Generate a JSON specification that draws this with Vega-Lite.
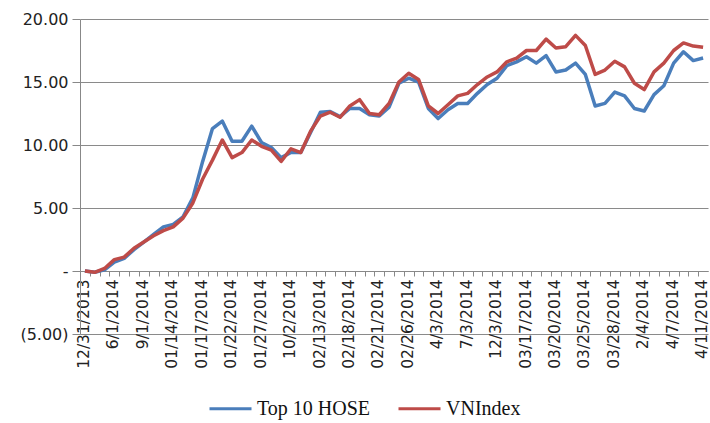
{
  "$schema": "https://vega.github.io/schema/vega-lite/v6.json",
  "width": 628,
  "height": 315,
  "autosize": "none",
  "padding": {"left": 80, "top": 19, "right": 2, "bottom": 89},
  "background": "white",
  "config": {"view": {"stroke": null}},
  "data": {"values": [
    {"day": "12/31/2013", "Top 10 HOSE": 0, "VNIndex": 0},
    {"day": "2/1/2014", "Top 10 HOSE": -0.1, "VNIndex": -0.1},
    {"day": "3/1/2014", "Top 10 HOSE": 0.1, "VNIndex": 0.2},
    {"day": "6/1/2014", "Top 10 HOSE": 0.7, "VNIndex": 0.9},
    {"day": "7/1/2014", "Top 10 HOSE": 1.0, "VNIndex": 1.1},
    {"day": "8/1/2014", "Top 10 HOSE": 1.7, "VNIndex": 1.8},
    {"day": "9/1/2014", "Top 10 HOSE": 2.3, "VNIndex": 2.3},
    {"day": "10/1/2014", "Top 10 HOSE": 2.9, "VNIndex": 2.8},
    {"day": "01/13/2014", "Top 10 HOSE": 3.5, "VNIndex": 3.2},
    {"day": "01/14/2014", "Top 10 HOSE": 3.7, "VNIndex": 3.5},
    {"day": "01/15/2014", "Top 10 HOSE": 4.3, "VNIndex": 4.2},
    {"day": "01/16/2014", "Top 10 HOSE": 5.8, "VNIndex": 5.4},
    {"day": "01/17/2014", "Top 10 HOSE": 8.7, "VNIndex": 7.3},
    {"day": "01/20/2014", "Top 10 HOSE": 11.3, "VNIndex": 8.8},
    {"day": "01/21/2014", "Top 10 HOSE": 11.9, "VNIndex": 10.4},
    {"day": "01/22/2014", "Top 10 HOSE": 10.3, "VNIndex": 9.0},
    {"day": "01/23/2014", "Top 10 HOSE": 10.3, "VNIndex": 9.4},
    {"day": "01/24/2014", "Top 10 HOSE": 11.5, "VNIndex": 10.4},
    {"day": "01/27/2014", "Top 10 HOSE": 10.2, "VNIndex": 9.9},
    {"day": "6/2/2014", "Top 10 HOSE": 9.8, "VNIndex": 9.6},
    {"day": "7/2/2014", "Top 10 HOSE": 9.0, "VNIndex": 8.7},
    {"day": "10/2/2014", "Top 10 HOSE": 9.4, "VNIndex": 9.7},
    {"day": "11/2/2014", "Top 10 HOSE": 9.4, "VNIndex": 9.4},
    {"day": "12/2/2014", "Top 10 HOSE": 11.0, "VNIndex": 11.1},
    {"day": "02/13/2014", "Top 10 HOSE": 12.6, "VNIndex": 12.3},
    {"day": "02/14/2014", "Top 10 HOSE": 12.65, "VNIndex": 12.6},
    {"day": "02/17/2014", "Top 10 HOSE": 12.25, "VNIndex": 12.2},
    {"day": "02/18/2014", "Top 10 HOSE": 12.9, "VNIndex": 13.1},
    {"day": "02/19/2014", "Top 10 HOSE": 12.9, "VNIndex": 13.6},
    {"day": "02/20/2014", "Top 10 HOSE": 12.4, "VNIndex": 12.5},
    {"day": "02/21/2014", "Top 10 HOSE": 12.3, "VNIndex": 12.4},
    {"day": "02/24/2014", "Top 10 HOSE": 13.0, "VNIndex": 13.3},
    {"day": "02/25/2014", "Top 10 HOSE": 14.9, "VNIndex": 15.0},
    {"day": "02/26/2014", "Top 10 HOSE": 15.3, "VNIndex": 15.7},
    {"day": "02/27/2014", "Top 10 HOSE": 15.0, "VNIndex": 15.2},
    {"day": "02/28/2014", "Top 10 HOSE": 12.9, "VNIndex": 13.1},
    {"day": "4/3/2014", "Top 10 HOSE": 12.1, "VNIndex": 12.5},
    {"day": "5/3/2014", "Top 10 HOSE": 12.8, "VNIndex": 13.2},
    {"day": "6/3/2014", "Top 10 HOSE": 13.3, "VNIndex": 13.9},
    {"day": "7/3/2014", "Top 10 HOSE": 13.3, "VNIndex": 14.1},
    {"day": "10/3/2014", "Top 10 HOSE": 14.1, "VNIndex": 14.8},
    {"day": "11/3/2014", "Top 10 HOSE": 14.8, "VNIndex": 15.4},
    {"day": "12/3/2014", "Top 10 HOSE": 15.3, "VNIndex": 15.8},
    {"day": "03/13/2014", "Top 10 HOSE": 16.3, "VNIndex": 16.6},
    {"day": "03/14/2014", "Top 10 HOSE": 16.6, "VNIndex": 16.9},
    {"day": "03/17/2014", "Top 10 HOSE": 17.0, "VNIndex": 17.5},
    {"day": "03/18/2014", "Top 10 HOSE": 16.5, "VNIndex": 17.5},
    {"day": "03/19/2014", "Top 10 HOSE": 17.1, "VNIndex": 18.4},
    {"day": "03/20/2014", "Top 10 HOSE": 15.8, "VNIndex": 17.7},
    {"day": "03/21/2014", "Top 10 HOSE": 15.95, "VNIndex": 17.8},
    {"day": "03/24/2014", "Top 10 HOSE": 16.5, "VNIndex": 18.7},
    {"day": "03/25/2014", "Top 10 HOSE": 15.6, "VNIndex": 17.9},
    {"day": "03/26/2014", "Top 10 HOSE": 13.1, "VNIndex": 15.6},
    {"day": "03/27/2014", "Top 10 HOSE": 13.3, "VNIndex": 15.95},
    {"day": "03/28/2014", "Top 10 HOSE": 14.2, "VNIndex": 16.65},
    {"day": "03/31/2014", "Top 10 HOSE": 13.9, "VNIndex": 16.2},
    {"day": "1/4/2014", "Top 10 HOSE": 12.9, "VNIndex": 14.9},
    {"day": "2/4/2014", "Top 10 HOSE": 12.7, "VNIndex": 14.4},
    {"day": "3/4/2014", "Top 10 HOSE": 14.0, "VNIndex": 15.8},
    {"day": "4/4/2014", "Top 10 HOSE": 14.7, "VNIndex": 16.5},
    {"day": "4/7/2014", "Top 10 HOSE": 16.5, "VNIndex": 17.5},
    {"day": "8/4/2014", "Top 10 HOSE": 17.4, "VNIndex": 18.1},
    {"day": "10/4/2014", "Top 10 HOSE": 16.7, "VNIndex": 17.85},
    {"day": "4/11/2014", "Top 10 HOSE": 16.9, "VNIndex": 17.75}
  ]},
  "transform": [{"fold": ["Top 10 HOSE", "VNIndex"], "as": ["series", "value"]}],
  "mark": {"type": "line", "strokeWidth": 3.5, "strokeJoin": "round"},
  "encoding": {
    "x": {
      "field": "day", "type": "ordinal", "sort": null,
      "scale": {"type": "point", "padding": 0.5},
      "axis": {
        "title": null, "offset": -63, "labelAngle": -90,
        "labelOverlap": false, "labelBound": false,
        "labelFont": "DejaVu Sans", "labelFontSize": 15.5, "labelColor": "#222",
        "labelPadding": 3,
        "tickSize": 5, "tickColor": "#888", "domainColor": "#888",
        "tickOffset": -4.9, "labelOffset": 3.5,
        "labelExpr": "indexof(['12/31/2013','6/1/2014','9/1/2014','01/14/2014','01/17/2014','01/22/2014','01/27/2014','10/2/2014','02/13/2014','02/18/2014','02/21/2014','02/26/2014','4/3/2014','7/3/2014','12/3/2014','03/17/2014','03/20/2014','03/25/2014','03/28/2014','2/4/2014','4/7/2014','4/11/2014'], datum.value) >= 0 ? datum.label : ''"
      }
    },
    "y": {
      "field": "value", "type": "quantitative",
      "scale": {"domain": [-5, 20], "nice": false, "zero": false},
      "axis": {
        "title": null, "values": [-5, 0, 5, 10, 15, 20],
        "grid": true, "gridColor": "#8a8a8a", "gridWidth": 1,
        "domainColor": "#888", "tickColor": "#888", "tickSize": 8,
        "labelFont": "DejaVu Sans", "labelFontSize": 16, "labelColor": "#222",
        "labelPadding": 4,
        "labelExpr": "datum.value == 0 ? '-' : (datum.value < 0 ? '(' + format(-datum.value, '.2f') + ')' : format(datum.value, '.2f'))"
      }
    },
    "color": {
      "field": "series", "type": "nominal",
      "scale": {"domain": ["Top 10 HOSE", "VNIndex"], "range": ["#4a7ebb", "#be4b48"]},
      "legend": {
        "title": null, "orient": "none", "direction": "horizontal",
        "legendX": 128, "legendY": 367, "padding": 0,
        "symbolType": "stroke", "symbolSize": 1764, "symbolStrokeWidth": 3,
        "labelFont": "Liberation Serif", "labelFontSize": 20, "labelColor": "#111",
        "labelOffset": 4, "columnPadding": 21
      }
    }
  }
}
